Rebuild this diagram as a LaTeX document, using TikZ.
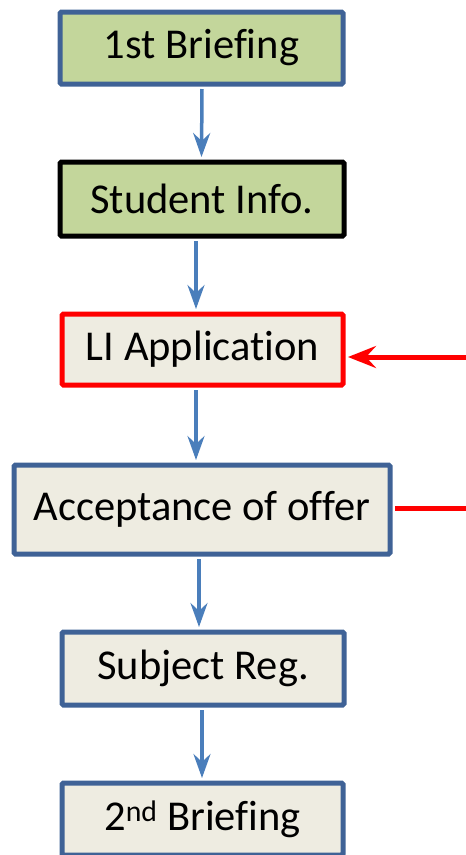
\documentclass[tikz,border=0pt]{standalone}
\usepackage{fontspec}
\setmainfont[RawFeature={-liga;-clig}]{Carlito}
\usetikzlibrary{arrows.meta}
\definecolor{bordblue}{HTML}{3F6296}
\definecolor{greenfill}{HTML}{C3D69B}
\definecolor{beigefill}{HTML}{EEECE1}
\definecolor{arrblue}{HTML}{4A7EBB}
\definecolor{redc}{HTML}{FF0000}
\begin{document}
\begin{tikzpicture}[x=1pt,y=-1pt,
  box/.style={draw=bordblue, line width=5pt, rounded corners=1.5pt, fill=beigefill,
    inner sep=0pt, align=center, font=\fontsize{42.5}{50}\selectfont},
  greenbox/.style={box, fill=greenfill},
  flow/.style={draw=arrblue, line width=3.5pt, -{Stealth[length=24pt,width=17pt,inset=8pt]}},
  redflow/.style={draw=redc, line width=5pt, -{Stealth[length=28pt,width=22pt,inset=10pt]}}
]
\useasboundingbox (0,0) rectangle (466,855);
\clip (0,0) rectangle (466,855);
\node[greenbox, minimum width=283pt, minimum height=72pt] (b1) at (201.5,48) {1st Briefing};
\node[greenbox, draw=black, minimum width=284pt, minimum height=74pt] (b2) at (202,199) {Student Info.};
\node[box, draw=redc, minimum width=281pt, minimum height=71pt] (b3) at (202.5,349.5) {LI Application};
\node[box, minimum width=376pt, minimum height=89pt] (b4) at (202,509.5) {Acceptance of offer};
\node[box, minimum width=282pt, minimum height=73pt] (b5) at (203,668.5) {Subject Reg.};
\node[box, minimum width=281pt, minimum height=72pt] (b6) at (202.5,819) {2\textsuperscript{nd} Briefing};
\coordinate (rin) at (466,357);
\coordinate (rout) at (466,508);
\draw[flow] ([xshift=0.5pt,yshift=-2.5pt]b1.south) -- ([xshift=-0.5pt,yshift=2.5pt]b2.north);
\draw[flow] ([xshift=-6pt,yshift=-2.5pt]b2.south) -- ([xshift=-6.5pt,yshift=2.5pt]b3.north);
\draw[flow] ([xshift=-6.5pt,yshift=-2.5pt]b3.south) -- ([xshift=-6pt,yshift=2.5pt]b4.north);
\draw[flow] ([xshift=-3pt,yshift=-2.5pt]b4.south) -- ([xshift=-4pt,yshift=2.5pt]b5.north);
\draw[flow] ([xshift=-1pt,yshift=-2.5pt]b5.south) -- ([xshift=-0.5pt,yshift=2.5pt]b6.north);
\draw[redflow] (rin) -- ([xshift=2.5pt]b3.east |- rin);
\draw[draw=redc, line width=5pt] ([xshift=2.5pt]b4.east |- rout) -- (rout);
\end{tikzpicture}
\end{document}
